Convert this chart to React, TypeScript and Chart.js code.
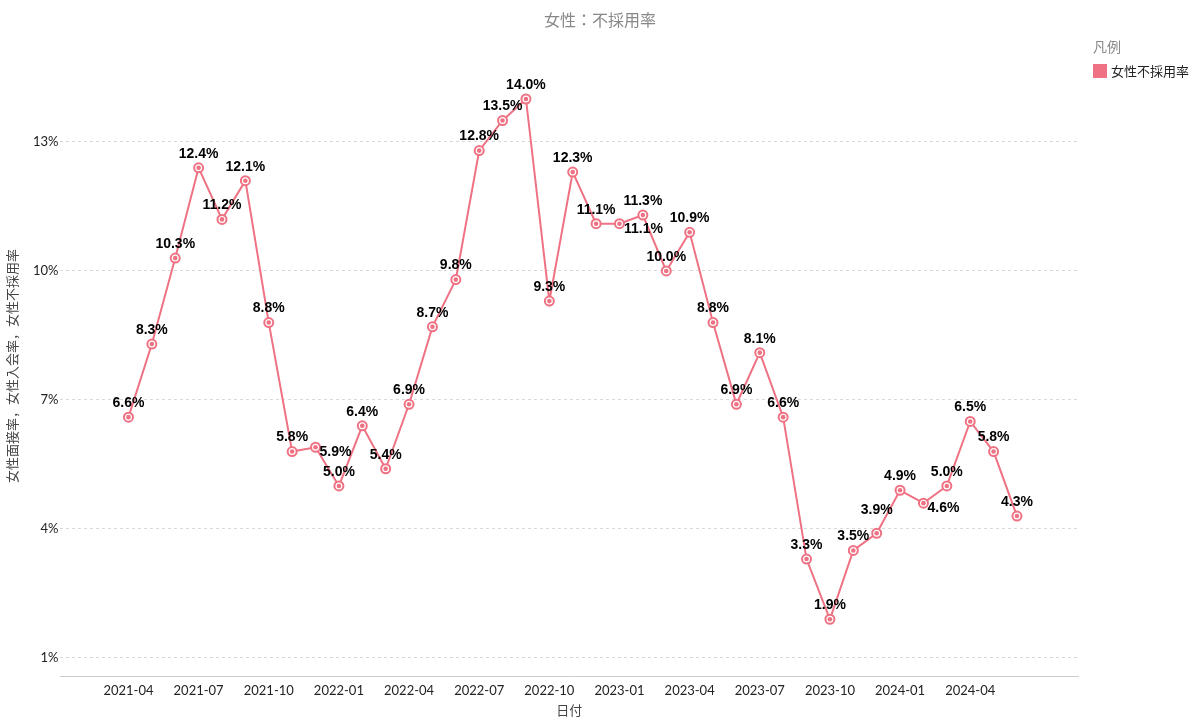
import React, { useEffect, useRef } from 'react';
import { Chart, registerables } from 'chart.js';

Chart.register(...registerables);

const months = [
  '2021-04', '2021-05', '2021-06', '2021-07', '2021-08', '2021-09', '2021-10', '2021-11', '2021-12',
  '2022-01', '2022-02', '2022-03', '2022-04', '2022-05', '2022-06', '2022-07', '2022-08', '2022-09', '2022-10', '2022-11', '2022-12',
  '2023-01', '2023-02', '2023-03', '2023-04', '2023-05', '2023-06', '2023-07', '2023-08', '2023-09', '2023-10', '2023-11', '2023-12',
  '2024-01', '2024-02', '2024-03', '2024-04', '2024-05', '2024-06',
];

const rejectionRate = [
  6.6, 8.3, 10.3, 12.4, 11.2, 12.1, 8.8, 5.8, 5.9,
  5.0, 6.4, 5.4, 6.9, 8.7, 9.8, 12.8, 13.5, 14.0, 9.3, 12.3, 11.1,
  11.1, 11.3, 10.0, 10.9, 8.8, 6.9, 8.1, 6.6, 3.3, 1.9, 3.5, 3.9,
  4.9, 4.6, 5.0, 6.5, 5.8, 4.3,
];

const yTickValues = [1, 4, 7, 10, 13];
const xTickMonths = ['2021-04', '2021-07', '2021-10', '2022-01', '2022-04', '2022-07', '2022-10', '2023-01', '2023-04', '2023-07', '2023-10', '2024-01', '2024-04'];

const seriesName = '女性不採用率';
const chartTitle = '女性：不採用率';
const yTitle = '女性面接率，女性入会率，女性不採用率';
const xTitle = '日付';
const legendTitle = '凡例';

// label placement tweaks (index -> [dx, dy]); default is above the point
const labelShift: Record<number, [number, number]> = {
  8: [20, 5],
  21: [24, 5],
  32: [0, -23],
  34: [20, 5],
};

const PINK = '#ee7283';

export default function App() {
  const ref = useRef<HTMLCanvasElement | null>(null);

  useEffect(() => {
    if (!ref.current) return;

    const overlay = {
      id: 'overlay',
      afterDatasetsDraw(chart: any) {
        const ctx = chart.ctx;
        const meta = chart.getDatasetMeta(0);
        ctx.save();
        meta.data.forEach((pt: any) => {
          ctx.beginPath();
          ctx.arc(pt.x, pt.y, 2.3, 0, Math.PI * 2);
          ctx.fillStyle = PINK;
          ctx.fill();
        });
        ctx.font = 'bold 14px "Liberation Sans", Arial, sans-serif';
        ctx.fillStyle = '#000';
        ctx.textAlign = 'center';
        ctx.textBaseline = 'middle';
        meta.data.forEach((pt: any, i: number) => {
          const s = labelShift[i] || [0, -14];
          ctx.fillText(rejectionRate[i].toFixed(1) + '%', pt.x + s[0], pt.y + s[1]);
        });
        // title
        ctx.font = '16px "Noto Sans CJK JP", sans-serif';
        ctx.fillStyle = '#888';
        ctx.fillText(chartTitle, 600, 20);
        // legend
        ctx.textAlign = 'left';
        ctx.font = '14px "Noto Sans CJK JP", sans-serif';
        ctx.fillStyle = '#888';
        ctx.fillText(legendTitle, 1093, 47);
        ctx.fillStyle = PINK;
        ctx.fillRect(1093, 64, 14, 14);
        ctx.font = '13px "Noto Sans CJK JP", sans-serif';
        ctx.fillStyle = '#222';
        ctx.fillText(seriesName, 1111, 71);
        ctx.restore();
      },
    };

    const chart = new Chart(ref.current, {
      type: 'line',
      data: {
        datasets: [
          {
            label: seriesName,
            data: rejectionRate.map((v, i) => ({ x: i, y: v })),
            borderColor: PINK,
            borderWidth: 2,
            backgroundColor: '#fff',
            pointBackgroundColor: '#fff',
            pointBorderColor: PINK,
            pointBorderWidth: 2,
            pointRadius: 4.5,
            pointHoverRadius: 4.5,
            tension: 0,
          },
        ],
      },
      options: {
        animation: false,
        responsive: true,
        maintainAspectRatio: false,
        layout: { padding: { left: 0, right: 122, top: 56, bottom: 0 } },
        plugins: {
          legend: { display: false },
          tooltip: { enabled: false },
          title: { display: false },
        },
        scales: {
          x: {
            type: 'linear',
            min: -2.907,
            max: 40.61,
            grid: { display: false, drawTicks: false },
            border: { display: true, color: '#ccc', width: 1 },
            afterBuildTicks: (scale: any) => {
              scale.ticks = xTickMonths.map((m) => ({ value: months.indexOf(m) }));
            },
            ticks: {
              padding: 7,
              color: '#222',
              font: { family: 'Lato, sans-serif', size: 13 },
              maxRotation: 0,
              autoSkip: false,
              callback: (v: any) => months[Math.round(Number(v))] ?? '',
            },
            title: {
              display: true,
              text: xTitle,
              color: '#444',
              font: { family: '"Noto Sans CJK JP", sans-serif', size: 13 },
              padding: { top: -3.4, bottom: 2.2 },
            },
          },
          y: {
            type: 'linear',
            min: 0.58,
            max: 15.0,
            grid: { display: true, color: '#d9d9d9', drawTicks: false },
            border: { display: false, dash: [3, 3] },
            afterBuildTicks: (scale: any) => {
              scale.ticks = yTickValues.map((v) => ({ value: v }));
            },
            ticks: {
              padding: 2,
              color: '#222',
              font: { family: 'Lato, sans-serif', size: 13 },
              callback: (v: any) => v + '%',
            },
            title: {
              display: true,
              text: yTitle,
              color: '#444',
              font: { family: '"Noto Sans CJK JP", sans-serif', size: 13 },
              padding: { top: 4.2, bottom: 11.2 },
            },
          },
        },
      },
      plugins: [overlay],
    });

    return () => chart.destroy();
  }, []);

  return (
    <div style={{ position: 'fixed', left: 0, top: 0, width: 1200, height: 720 }}>
      <canvas ref={ref} />
    </div>
  );
}
